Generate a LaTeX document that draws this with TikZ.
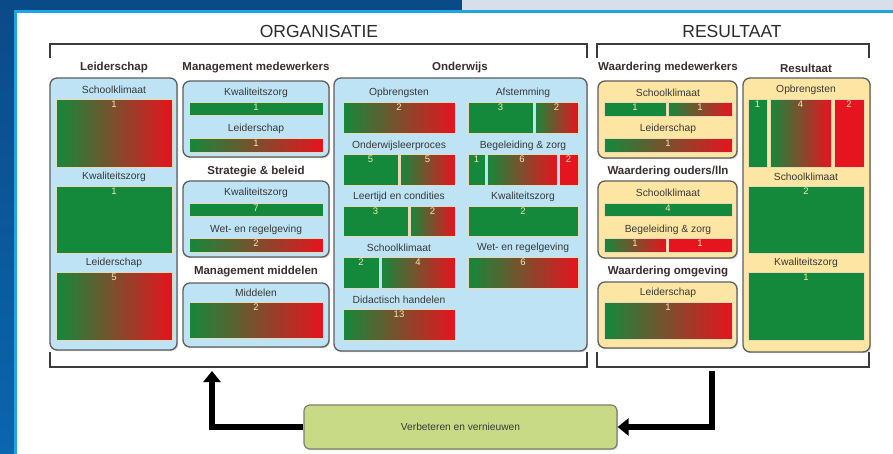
\documentclass[tikz,border=0pt]{standalone}
\usepackage{fontspec}
\setmainfont{Liberation Sans}
\usetikzlibrary{arrows.meta,shadows,calc}

\definecolor{framedark}{HTML}{0B4A88}
\definecolor{framelow}{HTML}{0A66AE}
\definecolor{frametop}{HTML}{D6E0EA}
\definecolor{frameline}{HTML}{20A4E2}
\definecolor{headcol}{HTML}{2B2B2B}
\definecolor{titlecol}{HTML}{3A2E2E}
\definecolor{labelcol}{HTML}{383838}
\definecolor{panelblue}{HTML}{BEE3F4}
\definecolor{panelyellow}{HTML}{FDE6A3}
\definecolor{panelline}{HTML}{5E5E5E}
\definecolor{bargreen}{HTML}{14893B}
\definecolor{barred}{HTML}{E5141F}
\definecolor{barline}{HTML}{E9D7B5}
\definecolor{numcol}{HTML}{F4E9B2}
\definecolor{boxgreen}{HTML}{C9DA87}
\definecolor{boxline}{HTML}{7D7F6E}
\definecolor{bracketcol}{HTML}{3C3C3C}

\begin{document}
\begin{tikzpicture}[x=1pt,y=-1pt,
    heading/.style={font=\fontsize{17.5}{20}\selectfont, text=headcol},
    grouptitle/.style={font=\bfseries\fontsize{11.5}{13}\selectfont, text=titlecol},
    itemlabel/.style={font=\fontsize{10.3}{12}\selectfont, text=labelcol, inner sep=1pt},
    num/.style={anchor=north, inner sep=1.5pt, font=\fontsize{9.5}{11}\selectfont, text=numcol},
    bracket/.style={draw=bracketcol, line width=2pt},
    bluepanel/.style={draw=panelline, line width=1.3pt, fill=panelblue, rounded corners=7pt,
        drop shadow={shadow xshift=1.2pt, shadow yshift=-1.2pt, opacity=0.35}},
    yellowpanel/.style={bluepanel, fill=panelyellow},
    bar/.style={rectangle, draw=barline, line width=0.6pt, inner sep=0pt, outer sep=0pt, anchor=north west},
    greenbar/.style={bar, fill=bargreen},
    redbar/.style={bar, fill=barred},
    gradbar/.style={bar, path picture={
        \foreach \i in {0,...,49}{
          \pgfmathsetmacro\gmix{\i*2+1}
          \fill [barred!\gmix!bargreen]
            ($(path picture bounding box.south west)!{\i/50}!(path picture bounding box.south east)$)
            rectangle
            ($(path picture bounding box.north west)!{(\i+1.4)/50}!(path picture bounding box.north east)$);
        }}},
    improvebox/.style={draw=boxline, line width=1.2pt, fill=boxgreen, rounded corners=6pt,
        minimum width=313pt, minimum height=44pt, font=\fontsize{10.2}{12}\selectfont, text=labelcol,
        drop shadow={shadow xshift=1.2pt, shadow yshift=-1.2pt, opacity=0.35}},
    loop arrow/.style={line width=6pt, line join=miter, -{Triangle[width=17pt,length=11pt]}}]
\useasboundingbox (0,0) rectangle (893,454);

% Drawing screen frame
\fill[white] (0,0) rectangle (893,454);%
\shade[top color=framedark, bottom color=framelow] (0,0) rectangle (14,454);%
\fill[framedark] (14,0) rectangle (462,10);%
\fill[frametop] (462,0) rectangle (893,10);%
\fill[frameline] (14,10) rectangle (893,13);%
\fill[frameline] (14,10) rectangle (17,454);%

% Marking headings
\draw (319,31) node [heading] (t-org) {ORGANISATIE};%
\draw (732,31) node [heading] (t-res) {RESULTAAT};%

% Drawing brackets
\draw [bracket] (50,58) -- (50,44) -- (587,44) -- (587,58);%
\draw [bracket] (50,352) -- (50,367) -- (587,367) -- (587,352);%
\draw [bracket] (597,58) -- (597,44) -- (869,44) -- (869,58);%
\draw [bracket] (597,352) -- (597,367) -- (869,367) -- (869,352);%

% Drawing panels
\draw [bluepanel] (50,78) rectangle (177,350);%
\draw [bluepanel] (183,81) rectangle (329,157);%
\draw [bluepanel] (183,181) rectangle (329,257);%
\draw [bluepanel] (183,283) rectangle (329,347);%
\draw [bluepanel] (334,78) rectangle (587,351);%
\draw [yellowpanel] (598,81) rectangle (737,158);%
\draw [yellowpanel] (598,181) rectangle (737,258);%
\draw [yellowpanel] (598,282) rectangle (737,348);%
\draw [yellowpanel] (743,78) rectangle (870,352);%

% Marking group titles
\draw (114,68) node [grouptitle] (h-leid) {Leiderschap};%
\draw (256,68) node [grouptitle] (h-mmw) {Management medewerkers};%
\draw (256,172) node [grouptitle] (h-sb) {Strategie \& beleid};%
\draw (256,272) node [grouptitle] (h-mmid) {Management middelen};%
\draw (460,68) node [grouptitle] (h-ond) {Onderwijs};%
\draw (668,68) node [grouptitle] (h-wmw) {Waardering medewerkers};%
\draw (668,172) node [grouptitle] (h-wol) {Waardering ouders/lln};%
\draw (668,272) node [grouptitle] (h-wom) {Waardering omgeving};%
\draw (806,68) node [grouptitle] (h-res) {Resultaat};%

% Leiderschap
\draw (114,90) node [itemlabel] (l-lei-sk) {Schoolklimaat};%
\node [gradbar, minimum width=116pt, minimum height=68pt] (b-lei-sk) at (56,99) {};%
\draw (b-lei-sk.north) node [num] {1};%
\draw (114,177) node [itemlabel] (l-lei-kz) {Kwaliteitszorg};%
\node [greenbar, minimum width=116pt, minimum height=67pt] (b-lei-kz) at (56,186) {};%
\draw (b-lei-kz.north) node [num] {1};%
\draw (114,263) node [itemlabel] (l-lei-ls) {Leiderschap};%
\node [gradbar, minimum width=116pt, minimum height=68pt] (b-lei-ls) at (56,272) {};%
\draw (b-lei-ls.north) node [num] {5};%

% Management medewerkers
\draw (256,93) node [itemlabel] (l-mmw-kz) {Kwaliteitszorg};%
\node [greenbar, minimum width=134pt, minimum height=13pt] (b-mmw-kz) at (189,102) {};%
\draw (b-mmw-kz.north) node [num] {1};%
\draw (256,129) node [itemlabel] (l-mmw-ls) {Leiderschap};%
\node [gradbar, minimum width=134pt, minimum height=14pt] (b-mmw-ls) at (189,138) {};%
\draw (b-mmw-ls.north) node [num] {1};%

% Strategie & beleid
\draw (256,193) node [itemlabel] (l-sb-kz) {Kwaliteitszorg};%
\node [greenbar, minimum width=134pt, minimum height=13pt] (b-sb-kz) at (189,203) {};%
\draw (b-sb-kz.north) node [num] {7};%
\draw (256,230) node [itemlabel] (l-sb-wr) {Wet- en regelgeving};%
\node [gradbar, minimum width=134pt, minimum height=14pt] (b-sb-wr) at (189,238) {};%
\draw (b-sb-wr.north) node [num] {2};%

% Management middelen
\draw (256,293) node [itemlabel] (l-mmid-md) {Middelen};%
\node [gradbar, minimum width=134pt, minimum height=36pt] (b-mmid-md) at (189,302) {};%
\draw (b-mmid-md.north) node [num] {2};%

% Onderwijs, left column
\draw (399,93) node [itemlabel] (l-ond-ob) {Opbrengsten};%
\node [gradbar, minimum width=112pt, minimum height=31pt] (b-ond-ob) at (343,102) {};%
\draw (b-ond-ob.north) node [num] {2};%
\draw (399,146) node [itemlabel] (l-ond-ol) {Onderwijsleerproces};%
\node [greenbar, minimum width=55pt, minimum height=31pt] (b-ond-ol1) at (343,154) {};%
\draw (b-ond-ol1.north) node [num] {5};%
\node [gradbar, minimum width=55pt, minimum height=31pt] (b-ond-ol2) at (400,154) {};%
\draw (b-ond-ol2.north) node [num] {5};%
\draw (399,197) node [itemlabel] (l-ond-lc) {Leertijd en condities};%
\node [greenbar, minimum width=65pt, minimum height=30pt] (b-ond-lc1) at (343,206) {};%
\draw (b-ond-lc1.north) node [num] {3};%
\node [gradbar, minimum width=45pt, minimum height=30pt] (b-ond-lc2) at (410,206) {};%
\draw (b-ond-lc2.north) node [num] {2};%
\draw (399,248) node [itemlabel] (l-ond-sk) {Schoolklimaat};%
\node [greenbar, minimum width=36pt, minimum height=31pt] (b-ond-sk1) at (343,257) {};%
\draw (b-ond-sk1.north) node [num] {2};%
\node [gradbar, minimum width=74pt, minimum height=31pt] (b-ond-sk2) at (381,257) {};%
\draw (b-ond-sk2.north) node [num] {4};%
\draw (399,300) node [itemlabel] (l-ond-dh) {Didactisch handelen};%
\node [gradbar, minimum width=112pt, minimum height=31pt] (b-ond-dh) at (343,309) {};%
\draw (b-ond-dh.north) node [num] {13};%

% Onderwijs, right column
\draw (523,93) node [itemlabel] (l-ond-af) {Afstemming};%
\node [greenbar, minimum width=65pt, minimum height=31pt] (b-ond-af1) at (468,102) {};%
\draw (b-ond-af1.north) node [num] {3};%
\node [gradbar, minimum width=43pt, minimum height=31pt] (b-ond-af2) at (535,102) {};%
\draw (b-ond-af2.north) node [num] {2};%
\draw (523,146) node [itemlabel] (l-ond-bz) {Begeleiding \& zorg};%
\node [greenbar, minimum width=17pt, minimum height=31pt] (b-ond-bz1) at (468,154) {};%
\draw (b-ond-bz1.north) node [num] {1};%
\node [gradbar, minimum width=70pt, minimum height=31pt] (b-ond-bz2) at (487,154) {};%
\draw (b-ond-bz2.north) node [num] {6};%
\node [redbar, minimum width=19pt, minimum height=31pt] (b-ond-bz3) at (559,154) {};%
\draw (b-ond-bz3.north) node [num] {2};%
\draw (523,197) node [itemlabel] (l-ond-kz) {Kwaliteitszorg};%
\node [greenbar, minimum width=110pt, minimum height=30pt] (b-ond-kz) at (468,206) {};%
\draw (b-ond-kz.north) node [num] {2};%
\draw (523,248) node [itemlabel] (l-ond-wr) {Wet- en regelgeving};%
\node [gradbar, minimum width=110pt, minimum height=31pt] (b-ond-wr) at (468,257) {};%
\draw (b-ond-wr.north) node [num] {6};%

% Waardering medewerkers
\draw (668,93) node [itemlabel] (l-wmw-sk) {Schoolklimaat};%
\node [greenbar, minimum width=62pt, minimum height=14pt] (b-wmw-sk1) at (604,102) {};%
\draw (b-wmw-sk1.north) node [num] {1};%
\node [gradbar, minimum width=64pt, minimum height=14pt] (b-wmw-sk2) at (668,102) {};%
\draw (b-wmw-sk2.north) node [num] {1};%
\draw (668,129) node [itemlabel] (l-wmw-ls) {Leiderschap};%
\node [gradbar, minimum width=128pt, minimum height=14pt] (b-wmw-ls) at (604,138) {};%
\draw (b-wmw-ls.north) node [num] {1};%

% Waardering ouders/lln
\draw (668,193) node [itemlabel] (l-wol-sk) {Schoolklimaat};%
\node [greenbar, minimum width=128pt, minimum height=13pt] (b-wol-sk) at (604,203) {};%
\draw (b-wol-sk.north) node [num] {4};%
\draw (668,230) node [itemlabel] (l-wol-bz) {Begeleiding \& zorg};%
\node [gradbar, minimum width=62pt, minimum height=14pt] (b-wol-bz1) at (604,238) {};%
\draw (b-wol-bz1.north) node [num] {1};%
\node [redbar, minimum width=64pt, minimum height=14pt] (b-wol-bz2) at (668,238) {};%
\draw (b-wol-bz2.north) node [num] {1};%

% Waardering omgeving
\draw (668,293) node [itemlabel] (l-wom-ls) {Leiderschap};%
\node [gradbar, minimum width=128pt, minimum height=37pt] (b-wom-ls) at (604,302) {};%
\draw (b-wom-ls.north) node [num] {1};%

% Resultaat
\draw (806,90) node [itemlabel] (l-res-ob) {Opbrengsten};%
\node [greenbar, minimum width=19pt, minimum height=68pt] (b-res-ob1) at (748,99) {};%
\draw (b-res-ob1.north) node [num] {1};%
\node [gradbar, minimum width=61pt, minimum height=68pt] (b-res-ob2) at (770,99) {};%
\draw (b-res-ob2.north) node [num] {4};%
\node [redbar, minimum width=30pt, minimum height=68pt] (b-res-ob3) at (834,99) {};%
\draw (b-res-ob3.north) node [num] {2};%
\draw (806,177) node [itemlabel] (l-res-sk) {Schoolklimaat};%
\node [greenbar, minimum width=116pt, minimum height=67pt] (b-res-sk) at (748,186) {};%
\draw (b-res-sk.north) node [num] {2};%
\draw (806,263) node [itemlabel] (l-res-kz) {Kwaliteitszorg};%
\node [greenbar, minimum width=116pt, minimum height=68pt] (b-res-kz) at (748,272) {};%
\draw (b-res-kz.north) node [num] {1};%

% Drawing improvement loop
\node [improvebox] (verb) at (460.5,427) {Verbeteren en vernieuwen};%
\coordinate (orgfoot) at (212,371);
\coordinate (resfoot) at (712,371);
\draw [loop arrow] (verb.west) -| (orgfoot);%
\draw [loop arrow] (resfoot) |- (verb.east);%
\end{tikzpicture}
\end{document}
